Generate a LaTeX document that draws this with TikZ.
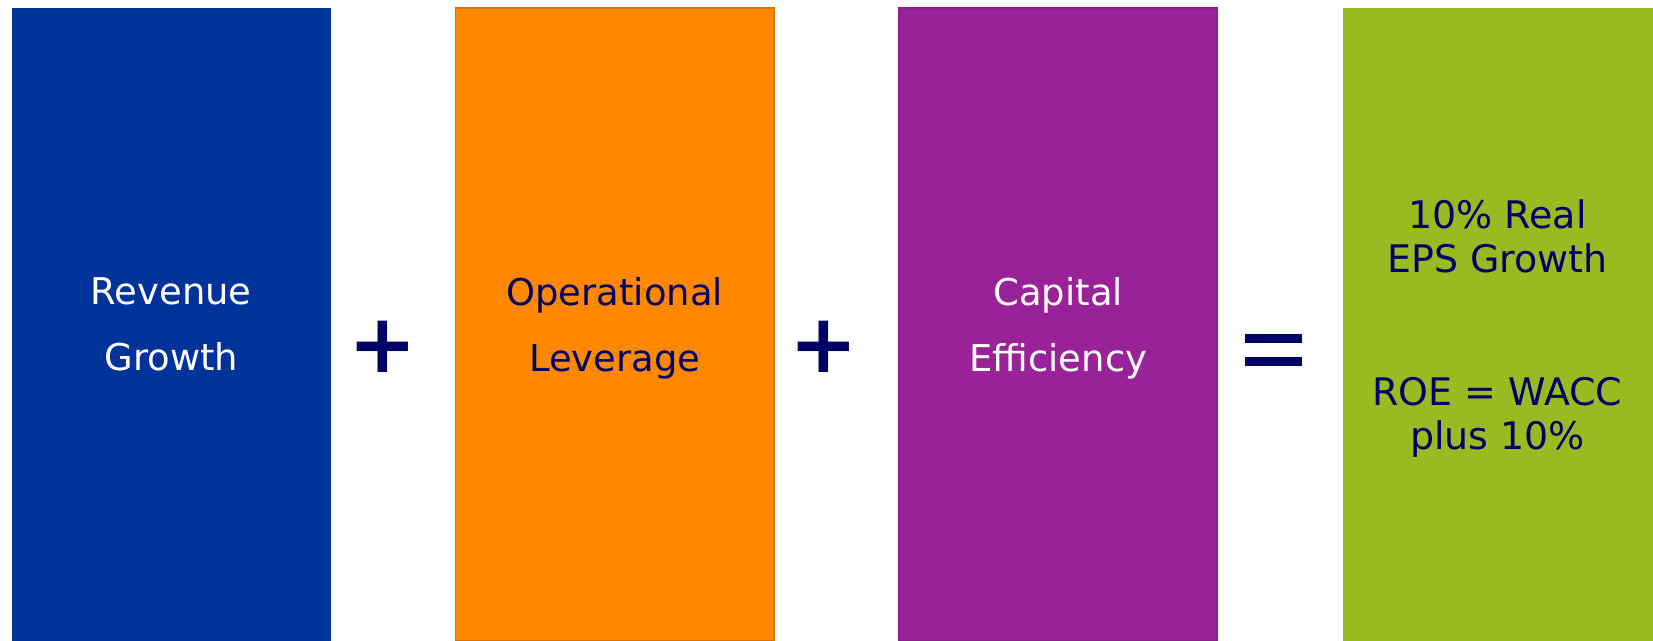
\documentclass[tikz,border=0pt]{standalone}
\usepackage{fontspec}
\setmainfont{DejaVu Sans}
\usetikzlibrary{positioning}
\definecolor{revblue}{HTML}{003399}
\definecolor{opsorange}{HTML}{FF8800}
\definecolor{cappurple}{HTML}{992299}
\definecolor{epsgreen}{HTML}{99BB22}
\definecolor{signnavy}{HTML}{000066}
\begin{document}
\begin{tikzpicture}
        % Define styles for blocks and signs
        \tikzset{
            block/.style={rectangle, inner sep=0pt, outer sep=0pt, minimum width=3.185cm, minimum height=6.33cm,
                align=center, text depth=0pt, font=\fontsize{10.5}{18.8}\selectfont},
            sign/.style={inner sep=0pt, text=signnavy, font=\fontsize{23.3}{24}\selectfont\bfseries}
        }
        \useasboundingbox (0,0) rectangle (16.53,-6.41);
        % Draw the blocks side by side
        \node[block, fill=revblue, text=white, anchor=north west] (rev) at (0.12, -0.08) {Revenue\\Growth};
        \node[block, fill=opsorange, draw=opsorange!85!black, line width=0.3pt, text=signnavy,
            right=1.25cm of rev] (ops) {Operational\\Leverage};
        \node[block, fill=cappurple, draw=cappurple!90!black, line width=0.3pt, text=white,
            right=1.25cm of ops] (cap) {Capital\\Efficiency};
        % Result block, cut by the right edge
        \node[block, fill=epsgreen, text=signnavy, minimum width=3.10cm,
            font=\fontsize{10.8}{12.6}\selectfont, right=1.25cm of cap] (eps)
            {10\% Real\\EPS Growth\\[0.88cm]ROE = WACC\\plus 10\%};
        % Draw the signs between blocks
        \node[sign] (plus1) at (3.827, -3.467) {+};
        \node[sign] (plus2) at (8.24, -3.467) {+};
        \node[inner sep=0pt, minimum width=0.55cm, minimum height=0.30cm] (equals) at (12.734, -3.50) {};
        \fill[signnavy] (equals.north west) rectangle ([yshift=-0.09cm]equals.north east);
        \fill[signnavy] (equals.south west) rectangle ([yshift=0.09cm]equals.south east);
    \end{tikzpicture}
\end{document}
